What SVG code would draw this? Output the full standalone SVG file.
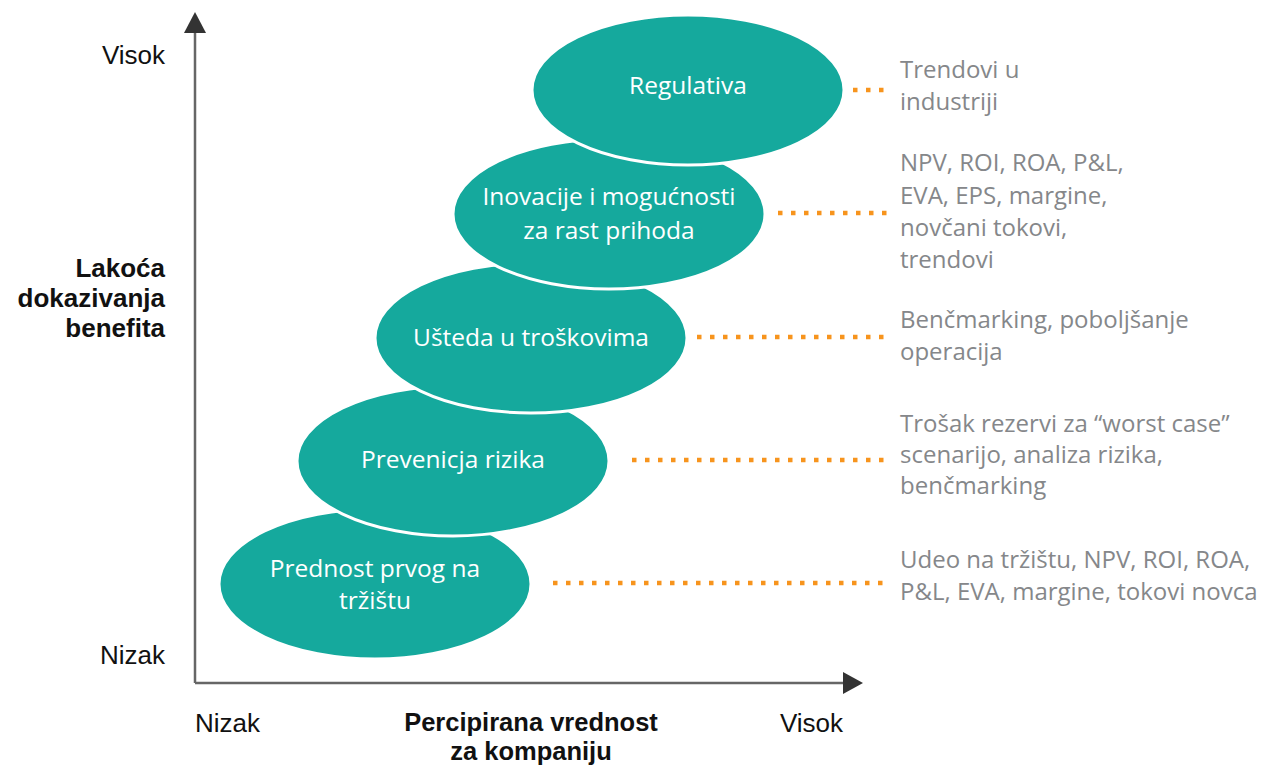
<svg xmlns="http://www.w3.org/2000/svg" width="1266" height="767" viewBox="0 0 1266 767">
<style>
.ell{fill:#15A99D;stroke:#fff;stroke-width:3}
.et{font-family:"Open Sans","Liberation Sans",sans-serif;font-size:24.5px;fill:#fff;text-anchor:middle}
.rt{font-family:"Open Sans","Liberation Sans",sans-serif;font-size:24px;fill:#85878a}
.ax{font-family:"Liberation Sans",Arial,sans-serif;font-size:26px;fill:#111}
.axb{font-family:"Liberation Sans",Arial,sans-serif;font-size:26px;font-weight:bold;fill:#111}
.dot{stroke:#F7941D;stroke-width:4.5;stroke-dasharray:4.5 8.5;fill:none}
.axis{stroke:#666;stroke-width:2.5;fill:none}
</style>
<rect width="1266" height="767" fill="#fff"/>
<g id="axes">
<line class="axis" x1="195" y1="683" x2="195" y2="33"/>
<line class="axis" x1="195" y1="683" x2="843" y2="683"/>
<path d="M195,12 L206,33 L184,33 Z" fill="#333"/>
<path d="M863,683 L843,672 L843,694 Z" fill="#333"/>
</g>
<g id="axis-labels">
<text class="ax" x="165" y="64" text-anchor="end">Visok</text>
<text class="ax" x="165" y="664" text-anchor="end">Nizak</text>
<text class="ax" x="195" y="732">Nizak</text>
<text class="ax" x="843" y="732" text-anchor="end">Visok</text>
<text class="axb" x="165" y="277" text-anchor="end">Lakoća</text>
<text class="axb" x="165" y="307" text-anchor="end">dokazivanja</text>
<text class="axb" x="165" y="337" text-anchor="end">benefita</text>
<text class="axb" x="531" y="731" text-anchor="middle" style="font-size:25.5px">Percipirana vrednost</text>
<text class="axb" x="531" y="760" text-anchor="middle" style="font-size:25.5px">za kompaniju</text>
</g>
<g id="connectors">
<line class="dot" x1="853" y1="90" x2="888" y2="90"/>
<line class="dot" x1="778" y1="213" x2="888" y2="213"/>
<line class="dot" x1="697" y1="337" x2="888" y2="337"/>
<line class="dot" x1="632" y1="460" x2="888" y2="460"/>
<line class="dot" x1="553" y1="583" x2="888" y2="583"/>
</g>
<g id="node-prednost">
<ellipse class="ell" cx="375" cy="584" rx="156" ry="75"/>
<text class="et" x="375" y="577">Prednost prvog na</text>
<text class="et" x="375" y="609">tržištu</text>
</g>
<g id="node-prevencija">
<ellipse class="ell" cx="453" cy="461" rx="156" ry="75"/>
<text class="et" x="453" y="468">Prevenicja rizika</text>
</g>
<g id="node-usteda">
<ellipse class="ell" cx="531" cy="338" rx="156" ry="75"/>
<text class="et" x="531" y="346">Ušteda u troškovima</text>
</g>
<g id="node-inovacije">
<ellipse class="ell" cx="609" cy="214" rx="156" ry="75"/>
<text class="et" x="609" y="205">Inovacije i mogućnosti</text>
<text class="et" x="609" y="239">za rast prihoda</text>
</g>
<g id="node-regulativa">
<ellipse class="ell" cx="688" cy="90" rx="156" ry="75"/>
<text class="et" x="688" y="94">Regulativa</text>
</g>
<g id="notes">
<text class="rt" x="900" y="78">Trendovi u</text>
<text class="rt" x="900" y="110">industriji</text>
<text class="rt" x="900" y="171">NPV, ROI, ROA, P&amp;L,</text>
<text class="rt" x="900" y="204">EVA, EPS, margine,</text>
<text class="rt" x="900" y="236">novčani tokovi,</text>
<text class="rt" x="900" y="268">trendovi</text>
<text class="rt" x="900" y="328">Benčmarking, poboljšanje</text>
<text class="rt" x="900" y="360">operacija</text>
<text class="rt" x="900" y="432">Trošak rezervi za “worst case”</text>
<text class="rt" x="900" y="463">scenarijo, analiza rizika,</text>
<text class="rt" x="900" y="494">benčmarking</text>
<text class="rt" x="900" y="568">Udeo na tržištu, NPV, ROI, ROA,</text>
<text class="rt" x="900" y="600">P&amp;L, EVA, margine, tokovi novca</text>
</g>
</svg>
